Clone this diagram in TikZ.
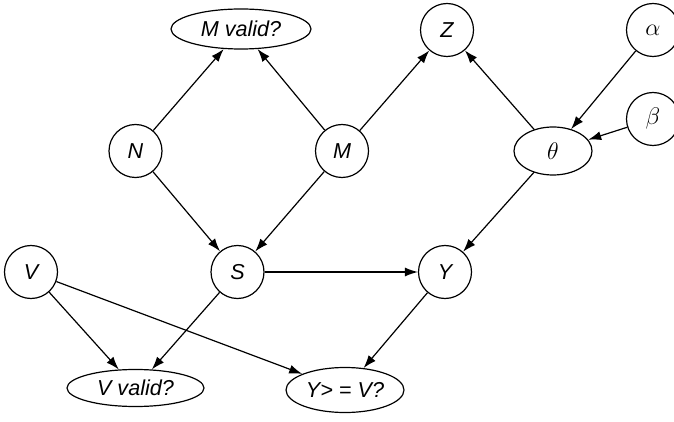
\documentclass[tikz,border=0pt]{standalone}
\usepackage{fontspec}
\setmainfont{Liberation Sans}
\usetikzlibrary{shapes.geometric,arrows.meta}
\begin{document}
\begin{tikzpicture}[x=0.5pt,y=-0.5pt,
  every node/.style={font=\fontsize{10.8}{13}\selectfont\itshape, line width=0.6pt},
  var/.style={draw, circle, minimum size=26.5pt, inner sep=0pt},
  test/.style={draw, ellipse, inner sep=0pt},
  greek/.style={font=\fontsize{12.5}{15}\selectfont},
  link/.style={draw, line width=0.6pt, -{Latex[length=6.5pt,width=4.5pt]}}]
  \useasboundingbox (0,0) rectangle (674,422);

  % question nodes
  \node[test, minimum width=70pt, minimum height=20pt] (mvalid) at (241,29) {M valid?};
  \node[test, minimum width=68.5pt, minimum height=18.5pt] (vvalid) at (135.5,388) {V valid?};
  \node[test, minimum width=59pt, minimum height=22.5pt] (yv) at (345,390) {Y> = V?};

  % variables
  \node[var] (z) at (447,30) {Z};
  \node[var, greek] (alpha) at (653,30) {$\alpha$};
  \node[var] (n) at (135.5,151) {N};
  \node[var] (m) at (342,151) {M};
  \node[test, greek, minimum width=39pt, minimum height=24pt] (theta) at (553,151) {$\theta$};
  \node[var, greek] (beta) at (653,119) {$\beta$};
  \node[var] (v) at (31,272) {V};
  \node[var] (s) at (237.5,272) {S};
  \node[var] (y) at (445,272) {Y};

  % dependencies
  \draw[link] (n) -- (mvalid);
  \draw[link] (m) -- (mvalid);
  \draw[link] (m) -- (z);
  \draw[link] (theta) -- (z);
  \draw[link] (alpha) -- (theta);
  \draw[link] (beta) -- (theta);
  \draw[link] (n) -- (s);
  \draw[link] (m) -- (s);
  \draw[link] (theta) -- (y);
  \draw[link] (s) -- (y);
  \draw[link] (v) -- (vvalid);
  \draw[link] (s) -- (vvalid);
  \draw[link] (v) -- (yv);
  \draw[link] (y) -- (yv);
\end{tikzpicture}
\end{document}
